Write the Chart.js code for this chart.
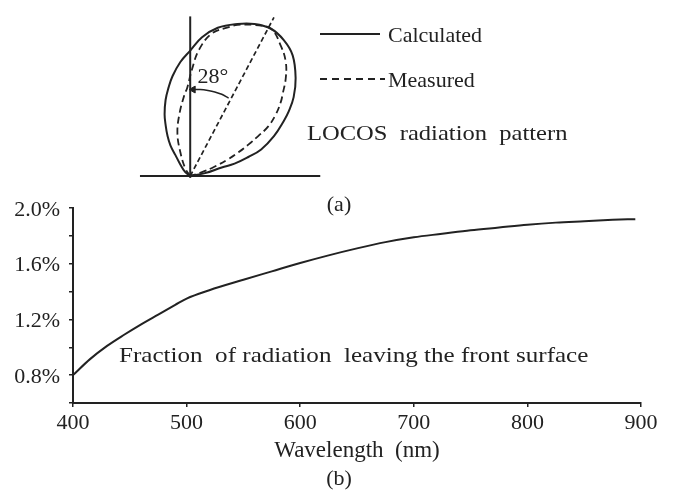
<!DOCTYPE html>
<html>
<head>
<meta charset="utf-8">
<script src="https://cdn.jsdelivr.net/npm/chart.js@4.4.1/dist/chart.umd.min.js"></script>
<style>
  html, body { margin: 0; padding: 0; background: #fff; }
  #page { position: relative; width: 674px; height: 495px; overflow: hidden; font-family: 'Liberation Serif', 'Times New Roman', serif; color: #222; }
  canvas { position: absolute; left: 0; }
  .lbl { position: absolute; font-size: 22px; line-height: 22px; white-space: pre; z-index: 2; }
  .mid { transform: translate(-50%, -50%); }
  .lft { transform: translateY(-50%); }
  .wide { transform-origin: 0 50%; }
  .key { position: absolute; height: 2px; z-index: 2; }
</style>
</head>
<body>
<div id="page">
  <canvas id="pattern" width="674" height="200" style="top:0"></canvas>
  <canvas id="grafico" width="674" height="315" style="top:180px"></canvas>

  <div class="key" style="left:320px; top:33px; width:60px; background:#222"></div>
  <div class="lbl lft" style="left:388px; top:34.5px">Calculated</div>
  <div class="key" style="left:320px; top:78px; width:65px; background:repeating-linear-gradient(to right,#222 0 7px,transparent 7px 12px)"></div>
  <div class="lbl lft" style="left:388px; top:79.5px">Measured</div>
  <div class="lbl wide" style="left:307px; top:133px; transform:translateY(-50%) scaleX(1.116)">LOCOS  radiation  pattern</div>
  <div class="lbl mid" style="left:213px; top:76px">28°</div>
  <div class="lbl mid" style="left:339px; top:204px">(a)</div>
  <div class="lbl wide" style="left:119px; top:354.5px; transform:translateY(-50%) scaleX(1.14)">Fraction  of radiation  leaving the front surface</div>
  <div class="lbl mid" style="left:339px; top:478px">(b)</div>
</div>
<script>
// (a) radiation pattern, origin at the emitter
const calcX = [0, -5, -11, -15, -20, -23, -25, -26, -25, -22, -18, -10, 0, 12, 28, 48, 65, 82, 95, 104, 107, 105, 100, 95, 85, 72, 59, 45, 32, 15, 0];
const calcY = [0, 4, 14, 22, 32, 42, 54, 65, 80, 93, 105, 120, 132, 146, 156, 160, 160, 155, 143, 127, 103, 83, 68, 58, 42, 28, 20, 13, 9, 3, 0];
const measX = [0, -5, -10, -13, -11, -6, -3, 2, 9, 22, 40, 48, 65, 82, 92, 97, 97, 94, 92, 87, 79, 69, 59, 49, 39, 25, 12, 0];
const measY = [0, 8, 25, 45, 65, 85, 93, 113, 133, 150, 157, 159, 159, 155, 137, 120, 103, 87, 78, 65, 52, 42, 33, 25, 18, 10, 4, 0];
const peakX = [0, 85];
const peakY = [0, 167];
const arcX = [39, 32, 25, 18, 10, 4];
const arcY = [82, 86, 88.5, 90, 91, 91];

// (b) fraction of radiation leaving the front surface
const wavelength = [400, 415, 430, 445, 460, 475, 490, 500, 520, 550, 575, 600, 625, 650, 675, 700, 725, 750, 775, 800, 825, 850, 875, 895];
const fraction = [0.80, 0.915, 1.01, 1.09, 1.165, 1.235, 1.305, 1.35, 1.41, 1.485, 1.545, 1.605, 1.66, 1.71, 1.755, 1.79, 1.815, 1.84, 1.86, 1.88, 1.895, 1.905, 1.915, 1.92];
const yLabels = [0.8, 1.2, 1.6, 2.0];

Chart.defaults.font.family = "'Liberation Serif', 'Times New Roman', serif";
Chart.defaults.color = '#222';

const ink = '#222';
const pts = (xs, ys) => xs.map((x, i) => ({ x: x, y: ys[i] }));

const line = (data, extra) => Object.assign({
  data: data,
  showLine: true,
  borderColor: ink,
  borderWidth: 2,
  pointRadius: 0,
  fill: false
}, extra);

new Chart(document.getElementById('pattern'), {
  type: 'scatter',
  data: {
    datasets: [
      line(pts(calcX, calcY), { tension: 0.4 }),
      line(pts(measX, measY), { tension: 0.4, borderDash: [7, 4], borderWidth: 1.8 }),
      line([{ x: 0, y: -2 }, { x: 0, y: 168 }]),
      line([{ x: -51, y: 0 }, { x: 132, y: 0 }]),
      line(pts(peakX, peakY), { borderDash: [5, 3], borderWidth: 1.7 }),
      line(pts(arcX, arcY), { tension: 0.4, borderWidth: 1.5 }),
      {
        data: [{ x: 3, y: 91 }],
        pointStyle: 'triangle',
        rotation: 270,
        pointRadius: 4,
        backgroundColor: ink,
        borderColor: ink,
        borderWidth: 1
      }
    ]
  },
  options: {
    responsive: false,
    animation: false,
    layout: { padding: 0 },
    plugins: { legend: { display: false }, tooltip: { enabled: false } },
    scales: {
      x: { type: 'linear', min: -188, max: 486, display: false },
      y: { type: 'linear', min: -20, max: 180, display: false }
    }
  }
});

new Chart(document.getElementById('grafico'), {
  type: 'line',
  data: {
    datasets: [{
      data: pts(wavelength, fraction),
      borderColor: ink,
      borderWidth: 2,
      pointRadius: 0,
      cubicInterpolationMode: 'monotone',
      fill: false
    }]
  },
  options: {
    responsive: false,
    animation: false,
    layout: { padding: { top: 28, right: 33, bottom: 0, left: 0 } },
    plugins: { legend: { display: false }, tooltip: { enabled: false } },
    scales: {
      x: {
        type: 'linear',
        min: 400,
        max: 900,
        afterFit: s => { s.height = 92; },
        border: { color: ink, width: 2 },
        grid: { drawOnChartArea: false, color: ink, tickLength: 4, lineWidth: 1.5 },
        ticks: { stepSize: 100, padding: 3, autoSkip: false, font: { size: 22 }, color: ink },
        title: { display: true, text: 'Wavelength  (nm)', font: { size: 23 }, color: ink, padding: { top: 0, bottom: 30 } }
      },
      y: {
        min: 0.6,
        max: 2.0,
        afterFit: s => { s.width = 73; },
        border: { color: ink, width: 2 },
        grid: { drawOnChartArea: false, color: ink, tickLength: 4, lineWidth: 1.5 },
        ticks: {
          stepSize: 0.2,
          padding: 9,
          autoSkip: false,
          labelOffset: 2,
          font: { size: 22 },
          color: ink,
          callback: v => {
            const r = Math.round(v * 10) / 10;
            return yLabels.some(l => Math.abs(l - r) < 1e-6) ? r.toFixed(1) + '%' : '';
          }
        }
      }
    }
  }
});
</script>
</body>
</html>
